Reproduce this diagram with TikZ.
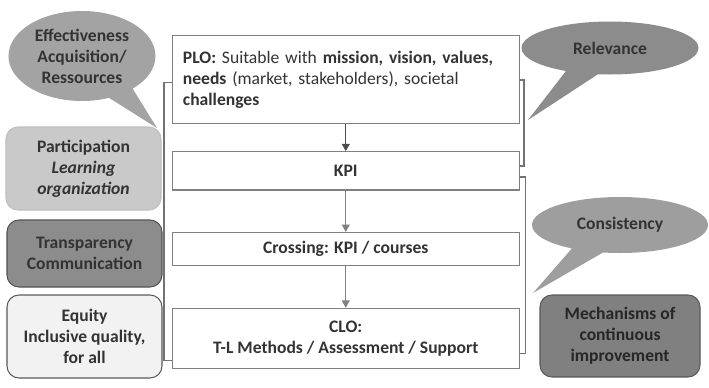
\documentclass[tikz,border=0pt]{standalone}
\usepackage{fontspec}
\setmainfont{Carlito}
\usetikzlibrary{arrows.meta,calc,shapes.callouts}

\definecolor{txt}{gray}{0.2}
\definecolor{edge}{gray}{0.5}

\begin{document}
\begin{tikzpicture}[x=0.03cm,y=-0.03cm,>={Triangle[length=2.2mm,width=2.4mm]},
  every node/.style={font=\fontsize{15}{18}\selectfont\bfseries,text=txt,align=center},
  stage/.style={draw=edge,line width=0.9pt,fill=white,minimum width=10.4cm,inner sep=0pt},
  side/.style={rounded corners=0.36cm,line width=0.9pt,minimum width=4.65cm,inner sep=0pt},
  bubble/.style={ellipse callout,callout pointer arc=22,inner sep=0pt},
  bracket/.style={draw=black!55,line width=1.3pt},
  flow/.style={->,draw=edge,line width=1pt}]
  \useasboundingbox (0,0) rectangle (709,387);

  % main chain of outcomes
  \node[stage,minimum height=2.63cm,text width=9.77cm,align=left] (plo) at (345.75,79.5)
    {PLO: \mdseries Suitable with \bfseries mission, vision, values,\\
     needs \mdseries(market, stakeholders), societal\\
     \bfseries challenges};
  \node[stage,minimum height=1.15cm] (kpi) at (345.75,170.8) {KPI};
  \node[stage,minimum height=0.98cm] (cross) at (345.75,248.7) {Crossing: KPI / courses};
  \node[stage,minimum height=1.8cm] (clo) at (345.75,338.3) {CLO:\\T-L Methods / Assessment / Support};

  \draw[flow,draw=black!70] (plo) -- (kpi);
  \draw[flow] (kpi) -- (cross);
  \draw[flow] (cross) -- (clo);

  % brackets
  \draw[bracket] ($(plo.west)+(0,3)$) -- ++(-8,0) |- ($(clo.west)+(0,22)$);
  \draw[bracket] ($(plo.east)+(0,0.5)$) -- ++(4.5,0) |- ($(kpi.east)+(0,-5)$);
  \draw[bracket] ($(kpi.east)+(0,6)$) -- ++(6,0) |- ($(clo.east)+(0,15)$);

  % principles on the left
  \node[side,draw=black!25,fill=black!21,minimum height=2.49cm] (part) at (83.5,168.5)
    {Participation\\\itshape Learning\\\itshape organization};
  \node[side,draw=black!68,fill=black!45,minimum height=2.01cm] (transp) at (84.5,253.5)
    {Transparency\\Communication};
  \node[side,draw=black!65,fill=black!5,minimum height=2.49cm] (equity) at (84.5,336.5)
    {Equity\\Inclusive quality,\\for all};
  \node[side,draw=black!65,fill=black!50,minimum width=4.8cm,minimum height=2.46cm,text=black!85] (mech) at (620,336)
    {Mechanisms of\\continuous\\improvement};

  % speech bubbles
  \node[bubble,fill=black!36,minimum width=4.41cm,minimum height=2.7cm,
    callout absolute pointer={(157,128)}] (effect) at (82,56)
    {Effectiveness\\Acquisition/\\Ressources};
  \node[bubble,fill=black!45,minimum width=5.31cm,minimum height=1.59cm,
    callout absolute pointer={(528,120)}] (relev) at (610,48) {Relevance};
  \node[bubble,fill=black!38,minimum width=5.28cm,minimum height=1.68cm,
    callout absolute pointer={(533,293)}] (consist) at (620,225) {Consistency};
\end{tikzpicture}
\end{document}
